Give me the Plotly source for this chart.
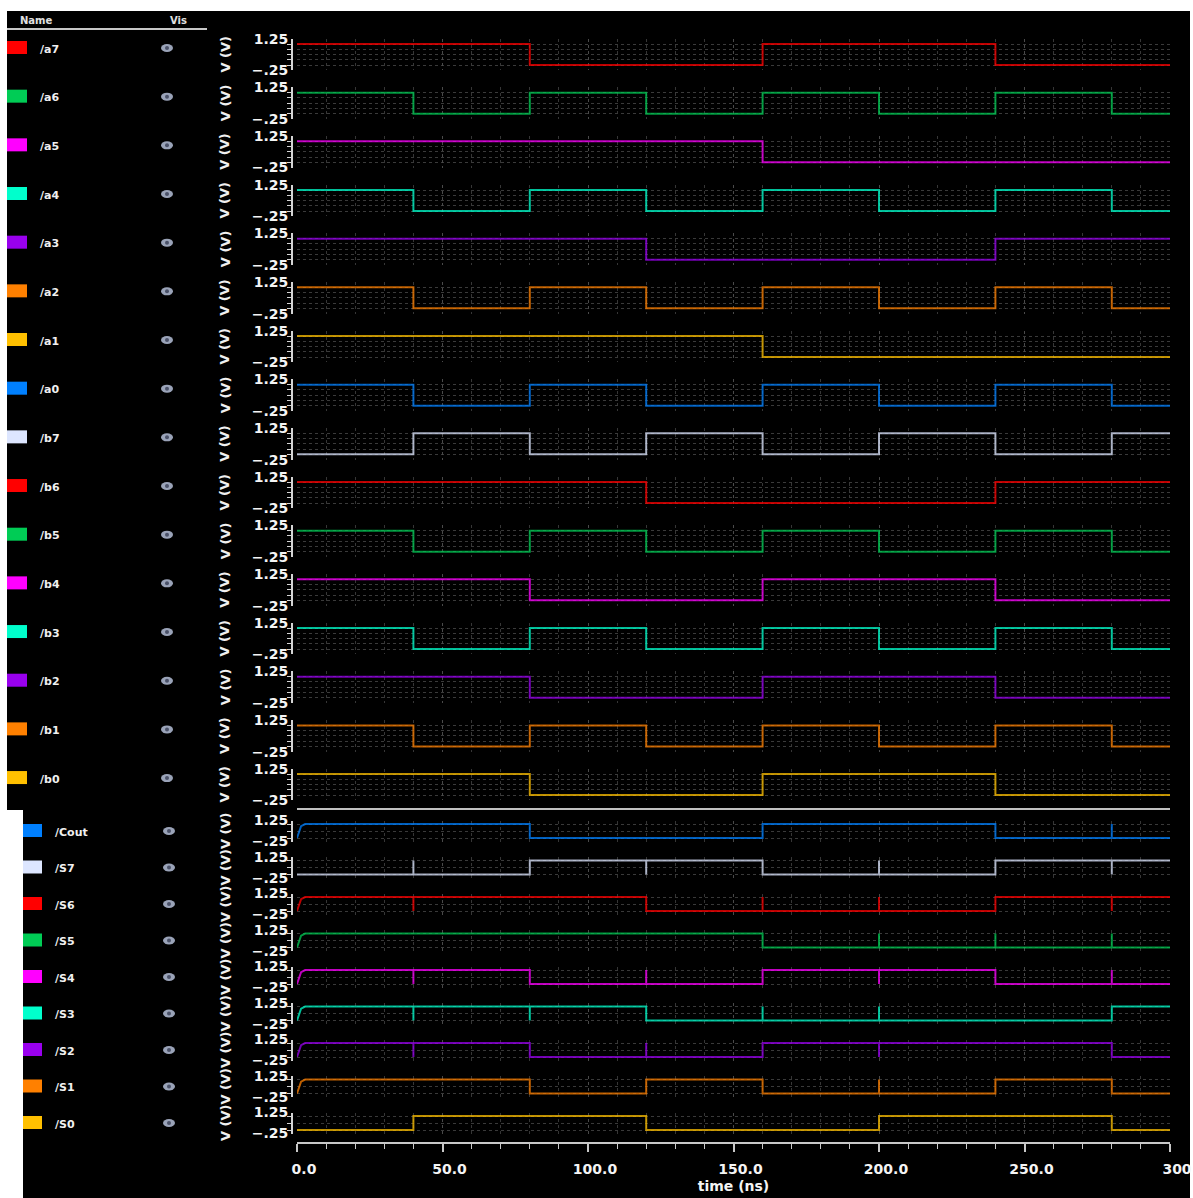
import plotly.graph_objects as go

W, H = 1193, 1198

# ---------------- data ----------------
# logic level of each signal in the 40 ns segments [0,40,80,...,280,300]
seg_edges = [0, 40, 80, 120, 160, 200, 240, 280, 300]

in_names = ["/a7", "/a6", "/a5", "/a4", "/a3", "/a2", "/a1", "/a0",
            "/b7", "/b6", "/b5", "/b4", "/b3", "/b2", "/b1", "/b0"]
a7 = [1, 1, 0, 0, 1, 1, 0, 0]
a6 = [1, 0, 1, 0, 1, 0, 1, 0]
a5 = [1, 1, 1, 1, 0, 0, 0, 0]
a4 = [1, 0, 1, 0, 1, 0, 1, 0]
a3 = [1, 1, 1, 0, 0, 0, 1, 1]
a2 = [1, 0, 1, 0, 1, 0, 1, 0]
a1 = [1, 1, 1, 1, 0, 0, 0, 0]
a0 = [1, 0, 1, 0, 1, 0, 1, 0]
b7 = [0, 1, 0, 1, 0, 1, 0, 1]
b6 = [1, 1, 1, 0, 0, 0, 1, 1]
b5 = [1, 0, 1, 0, 1, 0, 1, 0]
b4 = [1, 1, 0, 0, 1, 1, 0, 0]
b3 = [1, 0, 1, 0, 1, 0, 1, 0]
b2 = [1, 1, 0, 0, 1, 1, 0, 0]
b1 = [1, 0, 1, 0, 1, 0, 1, 0]
b0 = [1, 1, 0, 0, 1, 1, 0, 0]
in_vals = [a7, a6, a5, a4, a3, a2, a1, a0, b7, b6, b5, b4, b3, b2, b1, b0]
in_colors = ["#ff0000", "#00cc55", "#ff00ff", "#00ffcc", "#9900ee", "#ff8000",
             "#ffc000", "#0080ff", "#dde6ff", "#ff0000", "#00cc55", "#ff00ff",
             "#00ffcc", "#9900ee", "#ff8000", "#ffc000"]

out_names = ["/Cout", "/S7", "/S6", "/S5", "/S4", "/S3", "/S2", "/S1", "/S0"]
Cout = [1, 1, 0, 0, 1, 1, 0, 0]
S7 = [0, 0, 1, 1, 0, 0, 1, 1]
S6 = [1, 1, 1, 0, 0, 0, 1, 1]
S5 = [1, 1, 1, 1, 0, 0, 0, 0]
S4 = [1, 1, 0, 0, 1, 1, 0, 0]
S3 = [1, 1, 1, 0, 0, 0, 0, 1]
S2 = [1, 1, 0, 0, 1, 1, 1, 0]
S1 = [1, 1, 0, 1, 0, 0, 1, 0]
S0 = [0, 1, 1, 0, 0, 1, 1, 0]
out_vals = [Cout, S7, S6, S5, S4, S3, S2, S1, S0]
# glitch instants (ns) seen on the outputs
out_glitches = [[280], [40, 120, 200, 280], [40, 160, 200, 280], [200, 240, 280],
                [40, 120, 200, 280], [40, 80, 160, 200], [40, 120, 200], [200], []]
out_colors = ["#0080ff", "#dde6ff", "#ff0000", "#00cc55", "#ff00ff", "#00ffcc",
              "#9900ee", "#ff8000", "#ffc000"]
# initial rise of the outputs (ns, V)
ramp_t = [0.0, 0.6, 1.4, 2.8]
ramp_v = [0.0, 0.45, 0.85, 1.0]

x_tickvals = [0, 50, 100, 150, 200, 250, 300]
x_ticktext = ["0.0", "50.0", "100.0", "150.0", "200.0", "250.0", "300"]
y_tickvals = [-0.25, 1.25]
y_ticktext = ["\u2212.25", "1.25"]


# ---------------- helpers ----------------
def fx(px):
    return px / W


def fy(py):
    return 1 - py / H


def build(vals, glitches=(), ramp=False):
    xs, ys = [], []
    if ramp and vals[0] == 1:
        xs += ramp_t
        ys += ramp_v
    else:
        xs.append(seg_edges[0])
        ys.append(vals[0])
    cur = vals[0]
    for k in range(1, len(vals)):
        t = seg_edges[k]
        v = vals[k]
        if t in glitches:
            xs += [t, t, t]
            ys += [cur, 1 - cur, cur]
        if v != cur:
            xs += [t, t]
            ys += [cur, v]
        cur = v
    xs.append(seg_edges[-1])
    ys.append(cur)
    return xs, ys


fig = go.Figure()
layout = dict(
    width=W, height=H, template="none",
    margin=dict(l=0, r=0, t=0, b=0),
    paper_bgcolor="white", plot_bgcolor="rgba(0,0,0,0)",
    showlegend=False,
)

BOLD = dict(family="DejaVu Sans", weight="bold")
X0, X1 = 297, 1170
rows = []  # (name, color, xs, ys, y_hi, scale, panel)
for i, (nm, vals, col) in enumerate(zip(in_names, in_vals, in_colors)):
    xs, ys = build(vals)
    rows.append((nm, col, xs, ys, 44 + 48.67 * i, 21.0, "top"))
for j, (nm, vals, col, gl) in enumerate(zip(out_names, out_vals, out_colors, out_glitches)):
    xs, ys = build(vals, gl, ramp=True)
    rows.append((nm, col, xs, ys, 824 + 36.5 * j, 14.0, "bot"))

shapes = [
    dict(type="rect", xref="paper", yref="paper", x0=fx(7), x1=fx(1190), y0=fy(810), y1=fy(11),
         fillcolor="black", line=dict(width=0), layer="below"),
    dict(type="rect", xref="paper", yref="paper", x0=fx(23), x1=fx(1190), y0=0, y1=fy(810),
         fillcolor="black", line=dict(width=0), layer="below"),
    dict(type="line", xref="paper", yref="paper", x0=fx(7), x1=fx(207), y0=fy(29), y1=fy(29),
         line=dict(color="#c8c8c8", width=2)),
]
annotations = [
    dict(text="Name", x=fx(18), y=fy(20), xref="paper", yref="paper", xanchor="left",
         yanchor="middle", showarrow=False, font=dict(size=10, color="#e0e0e0", **BOLD)),
    dict(text="Vis", x=fx(168), y=fy(20), xref="paper", yref="paper", xanchor="left",
         yanchor="middle", showarrow=False, font=dict(size=10, color="#e0e0e0", **BOLD)),
]

n = len(rows)
for k, (nm, col, xs, ys, y_hi, sc, panel) in enumerate(rows, start=1):
    sfx = "" if k == 1 else str(k)
    top_px = y_hi - 0.25 * sc
    bot_px = y_hi + sc + 0.25 * sc
    fig.add_trace(go.Scatter(x=xs, y=ys, mode="lines", xaxis="x" + sfx, yaxis="y" + sfx,
                             line=dict(color=col, width=2), opacity=0.75,
                             hoverinfo="skip"))
    grid_v = [0, 0.25, 0.5, 0.75, 1.0] if panel == "top" else [0, 0.5, 1.0]
    layout["yaxis" + sfx] = dict(
        domain=[fy(bot_px), fy(top_px)], range=[-0.25, 1.25], anchor="free",
        position=fx(292), tickmode="array", tickvals=y_tickvals, ticktext=y_ticktext,
        ticks="", showgrid=False, zeroline=False, showline=True,
        linecolor="#d4d4d4", linewidth=2, automargin=False,
        tickfont=dict(size=14, color="#f4f4f4", **BOLD),
        minor=dict(tickmode="array", tickvals=grid_v, ticks="outside", ticklen=4,
                   tickcolor="#d4d4d4", tickwidth=1, showgrid=True,
                   gridcolor="#3a3a3a", griddash="dot", gridwidth=1),
    )
    xa = dict(
        domain=[fx(X0), fx(X1)], range=[0, 300], anchor="y" + sfx,
        tickmode="array", tickvals=x_tickvals, showticklabels=False, ticks="",
        showgrid=True, gridcolor="#4a4a4a", griddash="dot", zeroline=False,
        showline=False, automargin=False,
        minor=dict(dtick=10, tick0=0, showgrid=True, gridcolor="#363636", griddash="dot"),
    )
    if k == 16:
        xa.update(anchor="free", position=fy(809), showline=True, linecolor="#c0c0c0",
                  linewidth=1.5)
    if k == n:
        xa.update(anchor="free", position=fy(1143), showline=True, linecolor="#c8c8c8",
                  linewidth=2, ticks="outside", ticklen=8, tickwidth=1.5, tickcolor="#c8c8c8",
                  showticklabels=True, ticktext=x_ticktext,
                  tickfont=dict(size=14, color="#f4f4f4", **BOLD),
                  ticklabelshift=7, ticklabelstandoff=5, ticklabeloverflow="allow",
                  title=dict(text="time (ns)", font=dict(size=14, color="#f4f4f4", **BOLD),
                             standoff=4))
        xa["minor"].update(ticks="outside", ticklen=5, tickcolor="#c8c8c8", tickwidth=1)
    layout["xaxis" + sfx] = xa

    # legend-like name column
    if panel == "top":
        sq0, sq1, sx0, sx1, lab_x, lab_dy, eye_x = y_hi - 3, y_hi + 10, 7, 27, 38, 5, 167
    else:
        sq0, sq1, sx0, sx1, lab_x, lab_dy, eye_x = y_hi, y_hi + 13, 23, 42, 53, 8, 169
    shapes.append(dict(type="rect", xref="paper", yref="paper", x0=fx(sx0), x1=fx(sx1),
                       y0=fy(sq1), y1=fy(sq0), fillcolor=col, line=dict(width=0)))
    ey = y_hi + lab_dy - 1
    shapes.append(dict(type="circle", xref="paper", yref="paper", x0=fx(eye_x - 6),
                       x1=fx(eye_x + 6), y0=fy(ey + 4), y1=fy(ey - 4),
                       fillcolor="#9aa3b8", line=dict(width=0)))
    shapes.append(dict(type="circle", xref="paper", yref="paper", x0=fx(eye_x - 2),
                       x1=fx(eye_x + 2), y0=fy(ey + 2), y1=fy(ey - 2),
                       fillcolor="#4a5168", line=dict(width=0)))
    annotations.append(dict(text=nm, x=fx(lab_x), y=fy(y_hi + lab_dy), xref="paper",
                            yref="paper", xanchor="left", yanchor="middle", showarrow=False,
                            font=dict(size=11, color="#f0f0f0", **BOLD)))
    annotations.append(dict(text="V (V)", x=fx(225), y=fy((top_px + bot_px) / 2),
                            xref="paper", yref="paper", xanchor="center", yanchor="middle",
                            textangle=-90, showarrow=False,
                            font=dict(size=13, color="#f0f0f0", **BOLD)))

layout["shapes"] = shapes
layout["annotations"] = annotations
fig.update_layout(**layout)

fig.write_html("out.html", config={"displayModeBar": False},
               post_script="document.body.style.margin='0';")
